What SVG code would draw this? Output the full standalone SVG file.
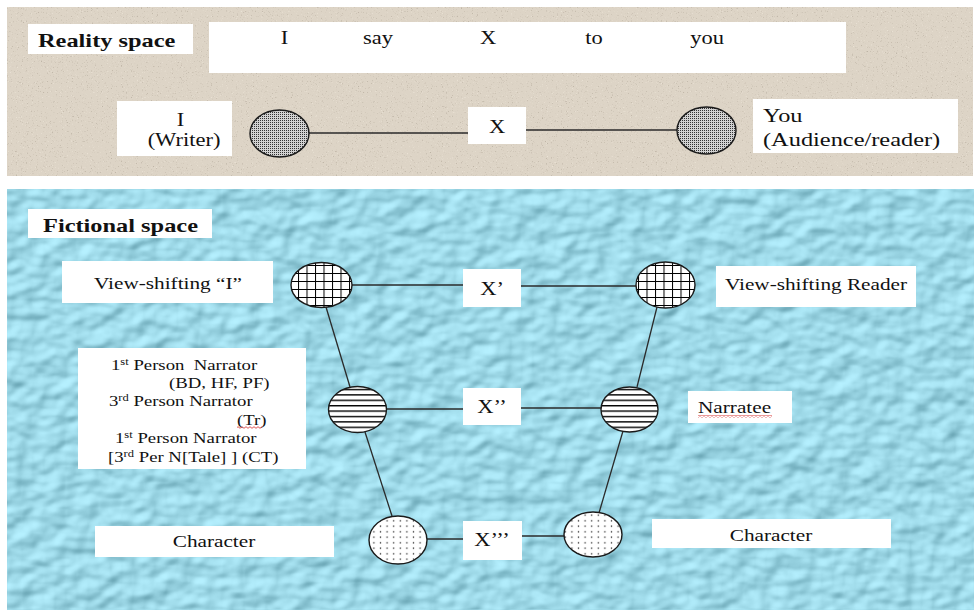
<svg xmlns="http://www.w3.org/2000/svg" width="974" height="610" viewBox="0 0 974 610">
  <style>
    .t { font-family: "Liberation Serif", "Times New Roman", serif; font-size: 18px; fill: #111; }
    .b { font-weight: bold; font-size: 19.5px; }
    .s15 { font-size: 15px; }
    .s17 { font-size: 17px; }
    .s19 { font-size: 19.5px; }
    .mid { text-anchor: middle; }
    .box { fill: #ffffff; }
    .edge { stroke: #2a2a2a; stroke-width: 1.3; fill: none; }
    .ring { stroke: #1a1a1a; stroke-width: 1.4; }
  </style>
  <defs>
    <!-- fine grey stipple for the reality-space nodes -->
    <pattern id="stipple" width="2" height="2" patternUnits="userSpaceOnUse">
      <rect width="2" height="2" fill="#d2d2d2"/>
      <rect width="1" height="1" fill="#333333"/>
    </pattern>
    <!-- square grid -->
    <pattern id="grid" x="0.5" y="1" width="8.5" height="8" patternUnits="userSpaceOnUse">
      <rect width="8.5" height="8" fill="#ffffff"/>
      <path d="M0 0 V8 M0 0 H8.5" stroke="#000" stroke-width="2"/>
    </pattern>
    <!-- horizontal rules -->
    <pattern id="rules" width="10" height="5.4" patternUnits="userSpaceOnUse">
      <rect width="10" height="5.4" fill="#ffffff"/>
      <path d="M0 0.7 H10" stroke="#000" stroke-width="1.4"/>
    </pattern>
    <!-- sparse dots -->
    <pattern id="dots" x="1" y="1" width="6.6" height="5.5" patternUnits="userSpaceOnUse">
      <rect width="6.6" height="5.5" fill="#ffffff"/>
      <circle cx="3.3" cy="2.7" r="0.75" fill="#111"/>
    </pattern>
    <!-- red spell-check squiggle -->
    <pattern id="squiggle" width="4" height="3" patternUnits="userSpaceOnUse">
      <path d="M0 2.3 L2 0.7 L4 2.3" stroke="#d42a2a" stroke-width="0.8" fill="none"/>
    </pattern>
    <!-- stone grain on the beige panel -->
    <filter id="grain" x="0" y="0" width="100%" height="100%" color-interpolation-filters="sRGB">
      <feTurbulence type="fractalNoise" baseFrequency="0.8" numOctaves="2" seed="4" result="n"/>
      <feColorMatrix in="n" type="matrix" values="0 0 0 0 0.7  0 0 0 0 0.66  0 0 0 0 0.6  3 0 0 0 -1.9" result="dark"/>
      <feColorMatrix in="n" type="matrix" values="0 0 0 0 0.94  0 0 0 0 0.91  0 0 0 0 0.86  0 -3 0 0 1.1" result="light"/>
      <feMerge result="spots"><feMergeNode in="light"/><feMergeNode in="dark"/></feMerge>
      <feComposite in="spots" in2="SourceGraphic" operator="atop"/>
    </filter>
    <!-- bumpy water-drop surface on the blue panel -->
    <filter id="drops" x="0" y="0" width="100%" height="100%" color-interpolation-filters="sRGB">
      <feTurbulence type="fractalNoise" baseFrequency="0.045 0.06" numOctaves="2" seed="11" result="n"/>
      <feDiffuseLighting in="n" surfaceScale="4" diffuseConstant="1" lighting-color="#ffffff" result="lit">
        <feDistantLight azimuth="235" elevation="52"/>
      </feDiffuseLighting>
      <feFlood flood-color="#447f8e" result="f"/>
      <feComposite in="lit" in2="f" operator="arithmetic" k1="0" k2="0.45" k3="1" k4="0" result="mix"/>
      <feComposite in="mix" in2="SourceGraphic" operator="in"/>
    </filter>
  </defs>

  <rect width="974" height="610" fill="#ffffff"/>

  <!-- panels -->
  <g id="reality-panel">
    <rect x="7" y="7" width="966" height="169" fill="#ddd4c6" filter="url(#grain)"/>
  </g>
  <g id="fiction-panel">
    <rect x="7" y="189" width="967" height="421" fill="#a6dbe7" filter="url(#drops)"/>
  </g>

  <!-- connectors -->
  <g id="connectors" class="edge">
    <line x1="309" y1="133" x2="468" y2="133"/>
    <line x1="526" y1="130" x2="677" y2="130"/>
    <line x1="352" y1="285" x2="463" y2="285"/>
    <line x1="521" y1="286" x2="636" y2="286"/>
    <line x1="386" y1="409" x2="463" y2="409"/>
    <line x1="521" y1="408" x2="601" y2="408"/>
    <line x1="427" y1="539" x2="463" y2="539"/>
    <line x1="522" y1="536" x2="564" y2="536"/>
    <line x1="326" y1="307" x2="350" y2="387"/>
    <line x1="365" y1="432" x2="392" y2="516"/>
    <line x1="657" y1="307" x2="637" y2="387"/>
    <line x1="623" y1="431" x2="599" y2="513"/>
  </g>

  <!-- reality space -->
  <g id="label-reality">
    <rect class="box" x="28" y="24" width="165" height="30"/>
    <text class="t b" transform="translate(38 47) scale(1.25 1)">Reality space</text>
  </g>
  <g id="sentence">
    <rect class="box" x="209" y="22" width="637" height="51"/>
    <text class="t mid" transform="translate(284.5 44) scale(1.25 1)">I</text>
    <text class="t" transform="translate(363 44) scale(1.25 1)">say</text>
    <text class="t mid" transform="translate(488 44) scale(1.25 1)">X</text>
    <text class="t mid" transform="translate(594 44) scale(1.25 1)">to</text>
    <text class="t mid" transform="translate(707 44) scale(1.25 1)">you</text>
  </g>
  <g id="writer">
    <rect class="box" x="117" y="101" width="115" height="55"/>
    <text class="t mid" transform="translate(180.5 126) scale(1.25 1)">I</text>
    <text class="t mid" transform="translate(184 146) scale(1.25 1)">(Writer)</text>
    <ellipse class="ring" cx="279.5" cy="133.5" rx="29.5" ry="23.5" fill="url(#stipple)"/>
  </g>
  <g id="message-x">
    <rect class="box" x="468" y="107" width="58" height="37"/>
    <text class="t mid" transform="translate(497 133) scale(1.25 1)">X</text>
  </g>
  <g id="audience">
    <ellipse class="ring" cx="706.5" cy="130.5" rx="29.5" ry="23.5" fill="url(#stipple)"/>
    <rect class="box" x="753" y="99" width="205" height="54"/>
    <text class="t s19" transform="translate(763 122) scale(1.25 1)">You</text>
    <text class="t s19" transform="translate(763 146) scale(1.25 1)">(Audience/reader)</text>
  </g>

  <!-- fictional space -->
  <g id="label-fiction">
    <rect class="box" x="28" y="209" width="184" height="29"/>
    <text class="t b" transform="translate(43 232) scale(1.25 1)">Fictional space</text>
  </g>
  <g id="vs-i">
    <rect class="box" x="62" y="261" width="211" height="42"/>
    <text class="t s17 mid" transform="translate(168 289) scale(1.25 1)">View-shifting “I”</text>
    <ellipse class="ring" cx="321.5" cy="285" rx="30.5" ry="22.5" fill="url(#grid)"/>
  </g>
  <g id="message-x1">
    <rect class="box" x="463" y="269" width="58" height="38"/>
    <text class="t mid" transform="translate(492 295) scale(1.25 1)">X’</text>
  </g>
  <g id="vs-reader">
    <ellipse class="ring" cx="665.5" cy="285" rx="29.5" ry="23" fill="url(#grid)"/>
    <rect class="box" x="716" y="266" width="200" height="41"/>
    <text class="t s17 mid" transform="translate(816 290) scale(1.25 1)">View-shifting Reader</text>
  </g>
  <g id="narrator">
    <rect class="box" x="78" y="348" width="228" height="121"/>
    <text class="t s15" transform="translate(111 370) scale(1.25 1)">1<tspan font-size="10" dy="-5">st</tspan><tspan dy="5"> Person&#160; Narrator</tspan></text>
    <text class="t s15" transform="translate(169 388) scale(1.25 1)">(BD, HF, PF)</text>
    <text class="t s15" transform="translate(109 406) scale(1.25 1)">3<tspan font-size="10" dy="-5">rd</tspan><tspan dy="5"> Person Narrator</tspan></text>
    <text class="t s15" transform="translate(237 425) scale(1.25 1)">(Tr)</text>
    <rect x="237" y="426" width="25" height="3" fill="url(#squiggle)"/>
    <text class="t s15" transform="translate(115 443) scale(1.25 1)">1<tspan font-size="10" dy="-5">st</tspan><tspan dy="5"> Person Narrator</tspan></text>
    <text class="t s15" transform="translate(108 462) scale(1.25 1)">[3<tspan font-size="10" dy="-5">rd</tspan><tspan dy="5"> Per N[Tale] ] (CT)</tspan></text>
    <ellipse class="ring" cx="357.5" cy="409.5" rx="29" ry="23" fill="url(#rules)"/>
  </g>
  <g id="message-x2">
    <rect class="box" x="463" y="388" width="58" height="37"/>
    <text class="t mid" transform="translate(492 413) scale(1.25 1)">X’’</text>
  </g>
  <g id="narratee">
    <ellipse class="ring" cx="629.5" cy="409.5" rx="28.5" ry="22.5" fill="url(#rules)"/>
    <rect class="box" x="688" y="391" width="104" height="32"/>
    <text class="t s17" transform="translate(698 413) scale(1.25 1)">Narratee</text>
    <rect x="698" y="415" width="74" height="3" fill="url(#squiggle)"/>
  </g>
  <g id="character-left">
    <rect class="box" x="95" y="526" width="239" height="31"/>
    <text class="t s17 mid" transform="translate(214 547) scale(1.25 1)">Character</text>
    <ellipse class="ring" cx="398" cy="540" rx="29" ry="24" fill="url(#dots)"/>
  </g>
  <g id="message-x3">
    <rect class="box" x="463" y="521" width="59" height="39"/>
    <text class="t mid" transform="translate(492 546) scale(1.25 1)">X’’’</text>
  </g>
  <g id="character-right">
    <ellipse class="ring" cx="593" cy="534.5" rx="29" ry="22.5" fill="url(#dots)"/>
    <rect class="box" x="652" y="519" width="239" height="29"/>
    <text class="t s17 mid" transform="translate(771 541) scale(1.25 1)">Character</text>
  </g>
</svg>
